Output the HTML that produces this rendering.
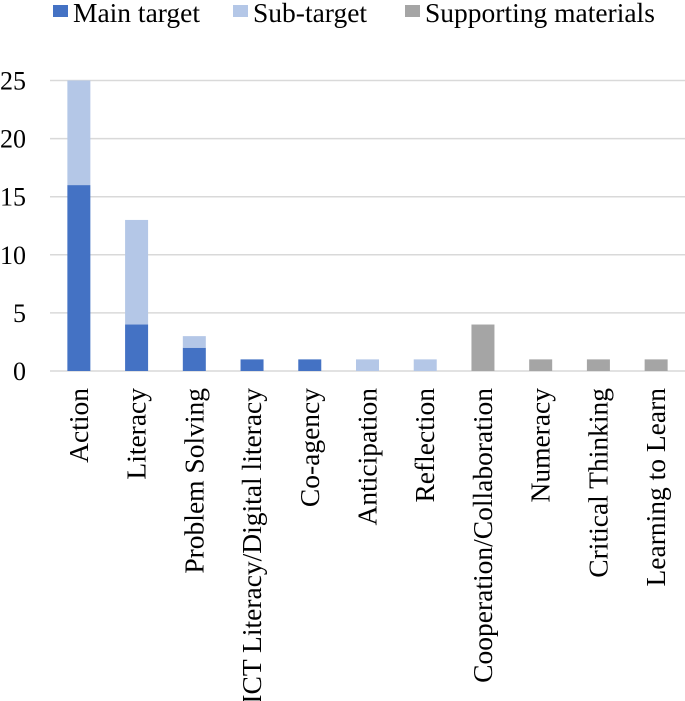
<!DOCTYPE html>
<html><head><meta charset="utf-8"><style>
html,body{margin:0;padding:0;background:#fff;}
svg{display:block;}
svg text{font-family:"Liberation Serif","Times New Roman",serif;}
</style></head><body>
<svg id="chart" width="685" height="701">
<g>
<g><rect x="53" y="5" width="15" height="12" fill="#4472C4"/><text x="73" y="22" font-size="27.5" font-family="Liberation Serif, serif">Main target</text></g>
<g><rect x="233" y="5" width="15" height="12" fill="#B4C7E7"/><text x="253" y="22" font-size="27.5" font-family="Liberation Serif, serif">Sub-target</text></g>
<g><rect x="405" y="5" width="15" height="12" fill="#A5A5A5"/><text x="425" y="22" font-size="27.5" font-family="Liberation Serif, serif">Supporting materials</text></g>
</g>
<g id="grid"></g>
<g id="yticks"></g>
<g id="bars"></g>
<g id="xlabels"></g>
</svg>
<script>
const categories=["Action","Literacy","Problem Solving","ICT Literacy/Digital literacy","Co-agency","Anticipation","Reflection","Cooperation/Collaboration","Numeracy","Critical Thinking","Learning to Learn"];
const mainTarget=[16,4,2,1,1,0,0,0,0,0,0];
const subTarget=[9,9,1,0,0,1,1,0,0,0,0];
const supporting=[0,0,0,0,0,0,0,4,1,1,1];
const yTicks=[0,5,10,15,20,25];
const NS="http://www.w3.org/2000/svg";
const x0=50,x1=685,y0=371,yTop=80.5,yMax=25;
const step=(x1-x0)/categories.length, bw=23;
function y(v){return y0-(v/yMax)*(y0-yTop);}
function cx(i){return x0+step*(i+0.5);}
function mk(t,a,p){const e=document.createElementNS(NS,t);for(const k in a)e.setAttribute(k,a[k]);p.appendChild(e);return e;}
const grid=document.getElementById('grid'),yt=document.getElementById('yticks'),bars=document.getElementById('bars'),xl=document.getElementById('xlabels');
yTicks.forEach(v=>{
  const l=mk('line',{x1:x0,x2:x1,y1:y(v),y2:y(v),stroke:'#D9D9D9','stroke-width':1.5},grid);
  
  
  const t=mk('text',{x:26,y:y(v)+9,'text-anchor':'end','font-size':26,'font-family':'Liberation Serif, serif'},yt);
  t.textContent=v;
  
  
});
const series=[[mainTarget,'#4472C4','main'],[subTarget,'#B4C7E7','sub'],[supporting,'#A5A5A5','supporting']];
categories.forEach((c,i)=>{
  let base=0;
  series.forEach(([arr,col,nm])=>{
    const v=arr[i]; if(!v) return;
    const r=mk('rect',{x:cx(i)-bw/2,y:y(base+v),width:bw,height:y(base)-y(base+v),fill:col},bars);
    
    
    base+=v;
  });
  const t=mk('text',{x:0,y:0,'text-anchor':'end','font-size':27.5,'font-family':'Liberation Serif, serif',transform:`translate(${cx(i)+9},388) rotate(-90)`},xl);
  t.textContent=c;
  
  
});
</script>
</body></html>
